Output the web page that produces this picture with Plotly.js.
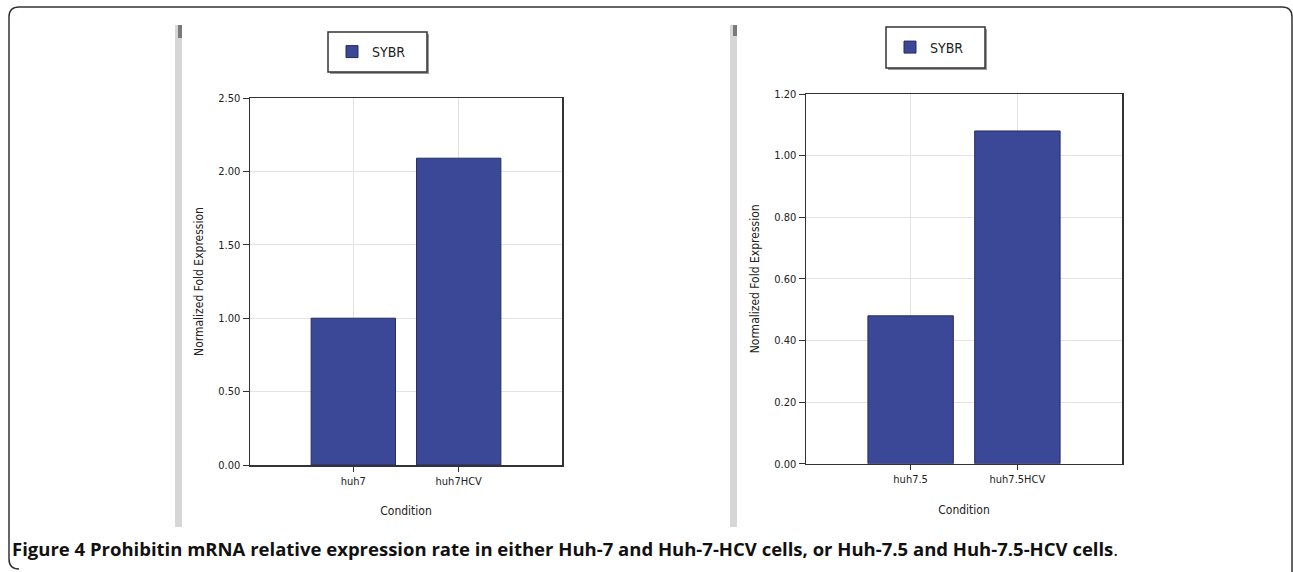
<!DOCTYPE html>
<html>
<head>
<meta charset="utf-8">
<script src="https://cdn.plot.ly/plotly-3.0.1.min.js"></script>
<style>
html,body{margin:0;padding:0;background:#fff;}
#chart{width:1293px;height:572px;}
</style>
</head>
<body>
<div id="chart"></div>
<script>
// ---- data ----
var seriesName = 'SYBR';
var leftCategories = ['huh7', 'huh7HCV'];
var leftValues = [1.00, 2.09];
var rightCategories = ['huh7.5', 'huh7.5HCV'];
var rightValues = [0.48, 1.08];
var yTitle = 'Normalized Fold Expression';
var xTitle = 'Condition';
var captionBold = 'Figure 4 Prohibitin mRNA relative expression rate in either Huh-7 and Huh-7-HCV cells, or Huh-7.5 and Huh-7.5-HCV cells';

var W = 1293, H = 572;
function px(x){ return x / W; }
function py(y){ return 1 - y / H; }

var barColor = '#3b4898';
var barLine = '#262c5c';
var tickFont = {family: 'DejaVu Sans Condensed, Liberation Sans Narrow, sans-serif', size: 11, color: '#222'};
var titleFont = {family: 'DejaVu Sans Condensed, Liberation Sans Narrow, sans-serif', size: 12, color: '#222'};

var traces = [
  {type: 'bar', x: leftCategories, y: leftValues, name: seriesName, xaxis: 'x', yaxis: 'y',
   width: 0.8, marker: {color: barColor, line: {color: barLine, width: 1}}, legend: 'legend'},
  {type: 'bar', x: rightCategories, y: rightValues, name: seriesName, xaxis: 'x2', yaxis: 'y2',
   width: 0.8, marker: {color: barColor, line: {color: barLine, width: 1}}, legend: 'legend2'}
];

function xax(domain, anchor){
  return {domain: domain, anchor: anchor, type: 'category', range: [-0.98, 1.98],
    showgrid: true, gridcolor: '#e3e3e3', gridwidth: 1,
    showline: true, linecolor: '#333', linewidth: 1.5, mirror: true,
    ticks: 'outside', ticklen: 5, tickcolor: '#333', tickfont: tickFont,
    title: {text: xTitle, font: titleFont, standoff: 20}, zeroline: false, fixedrange: true};
}
function yax(domain, anchor, max, dtick){
  return {domain: domain, anchor: anchor, range: [0, max], dtick: dtick, tickformat: '.2f',
    showgrid: true, gridcolor: '#e3e3e3', gridwidth: 1,
    showline: true, linecolor: '#333', linewidth: 1.5, mirror: true,
    ticks: 'outside', ticklen: 6, tickcolor: '#333', tickfont: tickFont,
    title: {text: yTitle, font: titleFont, standoff: 12}, zeroline: false, fixedrange: true};
}

function rect(x0,y0,x1,y1,fill,line){
  return {type:'rect', xref:'paper', yref:'paper', x0:px(x0), x1:px(x1), y0:py(y0), y1:py(y1),
    fillcolor: fill, line: line || {width:0}, layer:'below'};
}

// outer rounded border path (pixel -> paper)
function P(x,y){ return px(x).toFixed(5) + ',' + py(y).toFixed(5); }
var r = 10, L = 9, T = 7, R = 1292, B = 569;
var borderPath = 'M' + P(L, B - r) + ' L' + P(L, T + r) + ' Q' + P(L, T) + ' ' + P(L + r, T) +
  ' L' + P(R - r, T) + ' Q' + P(R, T) + ' ' + P(R, T + r) + ' L' + P(R, H + 5) +
  ' M' + P(L, B - r) + ' Q' + P(L, B) + ' ' + P(L + r, B);

var shapes = [
  {type:'path', xref:'paper', yref:'paper', path: borderPath, line:{color:'#333', width:1.5}, layer:'below'},
  // left grey strips
  rect(175, 25, 182, 527, '#d6d6d6'),
  rect(730, 25, 737, 527, '#d6d6d6'),
  rect(178, 25, 182, 38, '#7a7a7a'),
  rect(733, 25, 737, 36, '#7a7a7a'),
  // legend frames with shadow
  rect(330, 34, 429, 74, '#9a9a9a'),
  rect(328, 32, 427, 72, '#ffffff', {color:'#333', width:1.5}),
  rect(888, 29, 987, 70, '#9a9a9a'),
  rect(886, 27, 985, 68, '#ffffff', {color:'#333', width:1.5})
];

var legendFont = {family: 'DejaVu Sans Condensed, Liberation Sans Narrow, sans-serif', size: 14, color: '#222'};

var layout = {
  width: W, height: H,
  margin: {l:0, r:0, t:0, b:0},
  paper_bgcolor: '#fff', plot_bgcolor: '#fff',
  bargap: 0.2,
  xaxis: xax([px(250), px(562)], 'y'),
  yaxis: yax([py(465), py(98)], 'x', 2.5, 0.5),
  xaxis2: xax([px(806), px(1122)], 'y2'),
  yaxis2: yax([py(463.7), py(94)], 'x2', 1.2, 0.2),
  showlegend: true,
  legend: {x: px(332), y: py(52), xanchor:'left', yanchor:'middle', bgcolor:'rgba(0,0,0,0)', borderwidth:0, font: legendFont, itemwidth: 30},
  legend2: {x: px(890), y: py(47.5), xanchor:'left', yanchor:'middle', bgcolor:'rgba(0,0,0,0)', borderwidth:0, font: legendFont, itemwidth: 30},
  shapes: shapes,
  annotations: [
    {xref:'paper', yref:'paper', x: px(10), y: py(548), xanchor:'left', yanchor:'middle', showarrow:false,
     text: '<b>' + captionBold + '</b>.', font: {family:'Open Sans, Liberation Sans, sans-serif', size:18.5, color:'#111'}}
  ]
};

Plotly.newPlot('chart', traces, layout, {staticPlot: true, displayModeBar: false});
</script>
</body>
</html>
